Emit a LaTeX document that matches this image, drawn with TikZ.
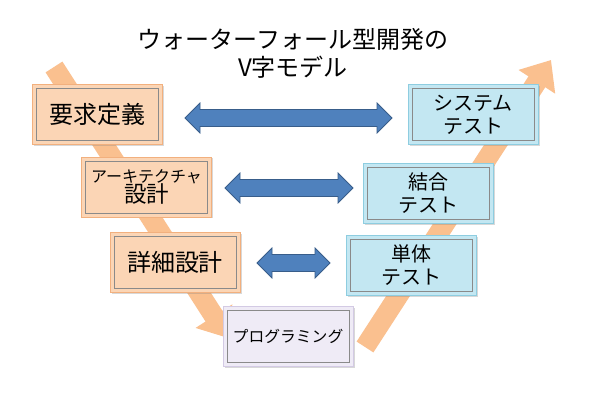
\documentclass[tikz,border=0pt]{standalone}
\usepackage{fontspec}
\setmainfont{Noto Sans CJK JP}
\usetikzlibrary{shadows,arrows.meta}
\definecolor{peachfill}{HTML}{FBD5B5}
\definecolor{peachline}{HTML}{F2B07E}
\definecolor{bluefill}{HTML}{C3E7F2}
\definecolor{blueline}{HTML}{8ECDE0}
\definecolor{lavfill}{HTML}{EFEBF6}
\definecolor{lavline}{HTML}{D3CAE4}
\definecolor{bandc}{HTML}{FAC08F}
\definecolor{arrfill}{HTML}{4F81BD}
\definecolor{arrline}{HTML}{385D8A}
\definecolor{innerc}{HTML}{8A8A8A}
\newcommand\blockarrow[3]{% left x, right x, centre y
  \draw[linkarrow] (#1,#3) -- (#1+15,#3+15) -- (#1+15,#3+8.5) -- (#2-15,#3+8.5)
    -- (#2-15,#3+15) -- (#2,#3) -- (#2-15,#3-15) -- (#2-15,#3-8.5)
    -- (#1+15,#3-8.5) -- (#1+15,#3-15) -- cycle;}
\begin{document}
\begin{tikzpicture}[x=1pt,y=1pt,
  stagebox/.style={rectangle, minimum width=130pt, minimum height=60pt, inner sep=0pt,
    align=center, line width=0.8pt,
    drop shadow={opacity=0.3, shadow xshift=1.5pt, shadow yshift=-1.5pt},
    path picture={\draw[innerc, line width=0.7pt]
      ([shift={(4pt,4pt)}]path picture bounding box.south west) rectangle
      ([shift={(-4pt,-4pt)}]path picture bounding box.north east);}},
  design/.style={stagebox, fill=peachfill, draw=peachline},
  testbox/.style={stagebox, fill=bluefill, draw=blueline},
  progbox/.style={stagebox, fill=lavfill, draw=lavline},
  band/.style={draw=bandc, line width=20pt, -{Triangle[width=42pt,length=26pt]}},
  linkarrow/.style={fill=arrfill, draw=arrline, line width=0.8pt, line join=miter},
  big/.style={font=\fontsize{24}{28}\selectfont},
  mid/.style={font=\fontsize{20}{23}\selectfont},
  small/.style={font=\fontsize{15.8}{19}\selectfont}
]
\useasboundingbox (0,0) rectangle (590,393);
\fill[white] (0,0) rectangle (590,393);

% title
\node[font=\fontsize{24}{28}\selectfont, align=center] (title) at (293,340)
  {ウォーターフォール型開発の\\V字モデル};

% V band
\coordinate (lstart) at (54,326);
\coordinate (ltip) at (228,55);
\coordinate (rstart) at (365,46);
\coordinate (rtip) at (551,333);
\draw[band] (lstart) -- (ltip);
\draw[band] (rstart) -- (rtip);

% stage boxes
\node[design, big] (req) at (97,278.5) {要求定義};
\node[design, align=center] (arch) at (146.5,206)
  {{\fontsize{16}{18}\selectfont アーキテクチャ}\\[-1pt]{\fontsize{22.5}{25}\selectfont 設計}};
\node[design, big] (det) at (175,130.5) {詳細設計};
\node[progbox, small] (prog) at (288,56.5) {プログラミング};
\node[testbox, mid] (unit) at (411,127.5) {単体\\テスト};
\node[testbox, mid] (integ) at (428,199.5) {結合\\テスト};
\node[testbox, mid] (sys) at (473,278.5) {システム\\テスト};

% correspondence arrows
\blockarrow{185}{392}{275}
\blockarrow{225}{353}{205}
\blockarrow{257}{330}{130}
\end{tikzpicture}
\end{document}
